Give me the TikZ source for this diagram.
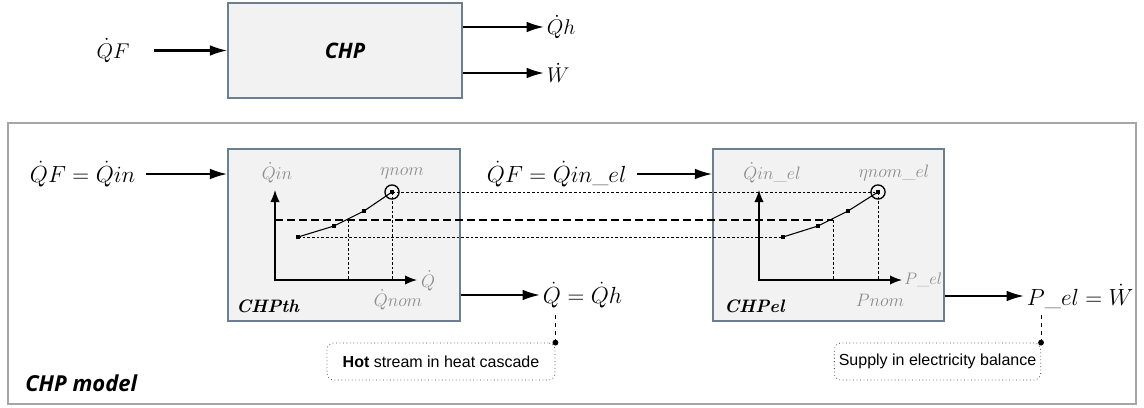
\RequirePackage{fix-cm}
\documentclass[tikz,border=0pt]{standalone}
\usepackage{fontspec}
\newfontfamily\headfont{Open Sans}
\newfontfamily\notefont{Liberation Sans}
\usetikzlibrary{positioning, arrows.meta}
\definecolor{boxfill}{HTML}{F2F2F2}
\definecolor{boxline}{HTML}{6D7E8E}
\definecolor{framegray}{HTML}{A6A6A6}
\definecolor{labelgray}{HTML}{8C8C8C}
\tikzset{
	block/.style = {draw=boxline, fill=boxfill, line width=1.1pt, rectangle},
	flow/.style = {-{Latex[length=13pt,width=8pt]}, line width=1.6pt}
}

\begin{document}
\begin{tikzpicture}[x=0.75pt, y=-0.75pt,
			eqtop/.style={inner sep=2pt, font=\fontsize{16}{19}\selectfont},
			eq/.style={inner sep=2pt, font=\fontsize{17.5}{20}\selectfont},
			graylabel/.style={inner sep=1pt, text=labelgray, font=\fontsize{13.5}{15}\selectfont},
			unitname/.style={inner sep=0pt, anchor=west, font=\fontsize{13.5}{16}\selectfont\bfseries\itshape},
			axis/.style={{Latex[length=9pt,width=7pt]}-{Latex[length=9pt,width=7pt]}, line width=1pt},
			guide/.style={dash pattern=on 2pt off 1.5pt, line width=0.6pt},
			level/.style={dash pattern=on 6pt off 3pt, line width=1.2pt},
			note/.style={draw=black!70, dotted, rounded corners=5pt, line width=0.6pt, font=\notefont\fontsize{12}{14}\selectfont},
			notelink/.style={dashed, line width=0.6pt}
			]
			\useasboundingbox (0,0) rectangle (1144,407);
			
			% Blackbox oben
			\node[block, minimum width=175.5pt, minimum height=71.25pt, font=\headfont\bfseries\itshape\fontsize{16}{19}\selectfont] (chp) at (345,50.5) {CHP};
			\node[eqtop, left=71pt of chp] (qf) {$\dot QF$};
			\node[eqtop, anchor=west] (qh) at (544,27) {$\dot Qh$};
			\node[eqtop, anchor=west] (w) at (544,73) {$\dot W$};
			\draw[flow, shorten <=16pt] (qf.east) -- (chp.west);
			\draw[flow] (chp.east |- qh) -- (qh.west);
			\draw[flow] (chp.east |- w) -- (w.west);
			
			% Modellrahmen
			\draw[framegray, line width=1.2pt] (8,123) rectangle (1136,404);
			\node[inner sep=0pt, anchor=west, font=\headfont\bfseries\itshape\fontsize{16.5}{19}\selectfont] (model) at (25,383) {CHP model};
			
			% Einheiten
			\node[block, minimum width=174pt, minimum height=129pt] (th) at (344,235) {};
			\node[block, minimum width=173.25pt, minimum height=129pt] (el) at (828.5,235) {};
			\node[unitname] (thname) at (236,306) {CHPth};
			\node[unitname] (elname) at (724,306) {CHPel};
			
			% Ein- und Ausgaenge
			\node[eq, anchor=west] (qin) at (27,174) {$\dot QF = \dot Qin$};
			\node[eq, anchor=west] (qinel) at (484,174) {$\dot QF = \dot Qin\_el$};
			\node[eq, anchor=west] (qq) at (540,295) {$\dot Q = \dot Qh$};
			\node[eq, anchor=west] (pel) at (1024,296) {$P\_el = \dot W$};
			\draw[flow, shorten <=6pt] (qin.east) -- (th.west |- qin);
			\draw[flow, shorten <=6pt] (qinel.east) -- (el.west |- qinel);
			\draw[flow] (th.east |- qq) -- (qq.west);
			\draw[flow] (el.east |- pel) -- (pel.west);
			
			% Kennlinien
			\coordinate (th0) at (275,280);
			\coordinate (th1) at (298,237);
			\coordinate (th2) at (334,226);
			\coordinate (th3) at (364,211);
			\coordinate (th4) at (392,192);
			\coordinate (thx) at (348,220);
			\coordinate (el0) at (759,280);
			\coordinate (el1) at (783,237);
			\coordinate (el2) at (818,226);
			\coordinate (el3) at (848,211);
			\coordinate (el4) at (878,192);
			\coordinate (elx) at (833,220);
			
			\draw[axis] (th0 |- 0,190) -- (th0) -- (417,280);
			\draw[axis] (el0 |- 0,190) -- (el0) -- (902,280);
			
			\draw[guide] (th4) -- (el4);
			\draw[guide] (th1) -- (el1);
			\draw[level] (th0 |- thx) -- (elx);
			\foreach \c in {thx, th4, elx, el4}
				\draw[guide] (\c) -- (\c |- th0);
			
			\draw[line width=0.8pt] (th1) -- (th2) -- (th3) -- (th4);
			\draw[line width=0.8pt] (el1) -- (el2) -- (el3) -- (el4);
			\foreach \c in {th1, th2, th3, th4, el1, el2, el3, el4}
				\fill (\c) +(-2.2,-2.2) rectangle +(2.2,2.2);
			\draw[line width=1pt] (th4) circle[radius=5.3pt];
			\draw[line width=1pt] (el4) circle[radius=5.3pt];
			
			\node[graylabel] (thin) at (277,173) {$\dot Qin$};
			\node[graylabel] (thnom) at (402,173) {$\eta nom$};
			\node[graylabel] (thout) at (428,281) {$\dot Q$};
			\node[graylabel] (thqnom) at (398,300) {$\dot Qnom$};
			\node[graylabel] (elin) at (772,173) {$\dot Qin\_el$};
			\node[graylabel] (elnom) at (894,173) {$\eta nom\_el$};
			\node[graylabel, anchor=west, inner sep=0pt, font=\fontsize{12.5}{15}\selectfont] (elout) at (904,280) {$P\_el$};
			\node[graylabel] (elpnom) at (880,300) {$Pnom$};
			
			% Hinweise
			\node[note, minimum width=171pt, minimum height=27.75pt] (hotnote) at (441,361.5) {\textbf{Hot} stream in heat cascade};
			\node[note, minimum width=152.25pt, minimum height=27.75pt] (supplynote) at (937.5,361.5) {Supply in electricity balance};
			\draw[notelink] (hotnote.north east) -- (hotnote.north east |- qq.south);
			\draw[notelink] (supplynote.north east) -- (supplynote.north east |- pel.south);
			\fill (hotnote.north east) circle[radius=2.2pt];
			\fill (supplynote.north east) circle[radius=2.2pt];
		\end{tikzpicture}
\end{document}
